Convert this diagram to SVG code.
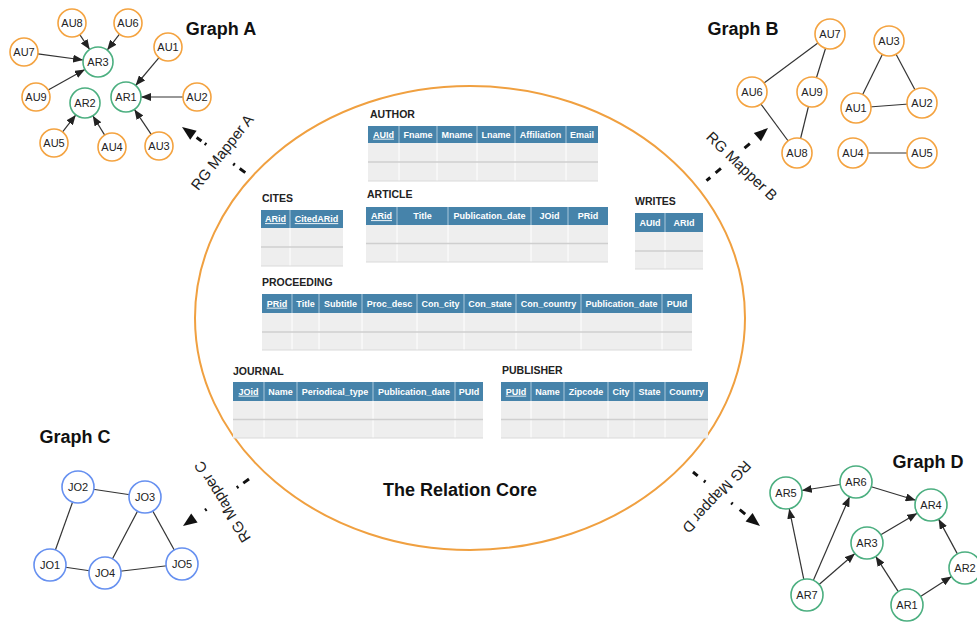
<svg xmlns="http://www.w3.org/2000/svg" width="977" height="623" viewBox="0 0 977 623">
<style>
.t{font-family:"Liberation Sans",Arial,Helvetica,sans-serif}
.edge{stroke:#333;stroke-width:1.2;fill:none}
.arr{marker-end:url(#tip)}
.au{fill:#fff;stroke:#F4A340;stroke-width:1.6}
.ar{fill:#fff;stroke:#4CAF80;stroke-width:1.6}
.jo{fill:#fff;stroke:#6690F0;stroke-width:1.6}
.nl{font-size:11px;fill:#222;text-anchor:middle;dominant-baseline:central}
.gt{font-size:18px;font-weight:bold;fill:#111;text-anchor:middle}
.tt{font-size:10.5px;font-weight:bold;fill:#222}
.hd{fill:#4683AA}
.hs{stroke:#A9C8DC;stroke-width:1}
.bd{fill:#EEEEEE}
.vs{stroke:#fff;stroke-width:1}
.rs{stroke:#CFCFCF;stroke-width:1.5}
.bs{stroke:#DADADA;stroke-width:1}
.ht{font-size:9px;font-weight:bold;fill:#fff;text-anchor:middle}
.pk{text-decoration:underline}
.mp{font-size:15px;fill:#222;text-anchor:middle;dominant-baseline:central}
.md{stroke:#111;stroke-width:3;fill:none}
.mh{fill:#111}
</style>
<defs>
<marker id="tip" markerUnits="userSpaceOnUse" markerWidth="10" markerHeight="8" viewBox="0 0 10 8" refX="10" refY="4" orient="auto">
<path d="M0,0 L10,4 L0,8 z" fill="#222"/>
</marker>
</defs>
<rect width="977" height="623" fill="#fff"/>

<!-- relation core boundary -->
<ellipse id="core" cx="470" cy="318" rx="275" ry="232" fill="none" stroke="#F0A040" stroke-width="2"/>
<text class="t" x="460" y="496" font-size="18" font-weight="bold" fill="#111" text-anchor="middle">The Relation Core</text>

<!-- ===== tables ===== -->
<g id="tbl-author">
<text class="t tt" x="370" y="118">AUTHOR</text>
<rect class="bd" x="368" y="143" width="230" height="38"/>
<rect class="hd" x="368" y="126" width="230" height="17"/>
<path class="hs" d="M399,126V143M437,126V143M477,126V143M515,126V143M566,126V143"/>
<path class="vs" d="M399,143V181M437,143V181M477,143V181M515,143V181M566,143V181"/>
<path class="rs" d="M368,162H598"/><path class="bs" d="M368,181H598"/>
<g class="t ht"><text class="pk" x="383.5" y="137.7">AUId</text><text x="418" y="137.7">Fname</text><text x="457" y="137.7">Mname</text><text x="496" y="137.7">Lname</text><text x="540.5" y="137.7">Affiliation</text><text x="582" y="137.7">Email</text></g>
</g>

<g id="tbl-article">
<text class="t tt" x="367" y="198">ARTICLE</text>
<rect class="bd" x="366" y="225" width="242" height="37"/>
<rect class="hd" x="366" y="207" width="242" height="18"/>
<path class="hs" d="M397,207V225M448,207V225M531,207V225M568,207V225"/>
<path class="vs" d="M397,225V262M448,225V262M531,225V262M568,225V262"/>
<path class="rs" d="M366,243.5H608"/><path class="bs" d="M366,262H608"/>
<g class="t ht"><text class="pk" x="381.5" y="219.2">ARid</text><text x="422.5" y="219.2">Title</text><text x="489.5" y="219.2">Publication_date</text><text x="549.5" y="219.2">JOid</text><text x="588" y="219.2">PRid</text></g>
</g>

<g id="tbl-cites">
<text class="t tt" x="262" y="202">CITES</text>
<rect class="bd" x="261" y="228" width="82" height="38"/>
<rect class="hd" x="261" y="210" width="82" height="18"/>
<path class="hs" d="M290,210V228"/>
<path class="vs" d="M290,228V266"/>
<path class="rs" d="M261,247H343"/><path class="bs" d="M261,266H343"/>
<g class="t ht"><text class="pk" x="275.5" y="222.2">ARid</text><text class="pk" x="316.5" y="222.2">CitedARid</text></g>
</g>

<g id="tbl-writes">
<text class="t tt" x="635" y="205">WRITES</text>
<rect class="bd" x="635" y="232" width="68" height="37"/>
<rect class="hd" x="635" y="213" width="68" height="19"/>
<path class="hs" d="M665,213V232"/>
<path class="vs" d="M665,232V269"/>
<path class="rs" d="M635,251H703"/><path class="bs" d="M635,269H703"/>
<g class="t ht"><text x="650" y="225.7">AUId</text><text x="684" y="225.7">ARId</text></g>
</g>

<g id="tbl-proceeding">
<text class="t tt" x="262" y="286">PROCEEDING</text>
<rect class="bd" x="262" y="313" width="430" height="37"/>
<rect class="hd" x="262" y="294" width="430" height="19"/>
<path class="hs" d="M292,294V313M319,294V313M362,294V313M417,294V313M464,294V313M516,294V313M581,294V313M662,294V313"/>
<path class="vs" d="M292,313V350M319,313V350M362,313V350M417,313V350M464,313V350M516,313V350M581,313V350M662,313V350"/>
<path class="rs" d="M262,332H692"/><path class="bs" d="M262,350H692"/>
<g class="t ht"><text class="pk" x="277" y="306.7">PRid</text><text x="305.5" y="306.7">Title</text><text x="340.5" y="306.7">Subtitle</text><text x="389.5" y="306.7">Proc_desc</text><text x="440.5" y="306.7">Con_city</text><text x="490" y="306.7">Con_state</text><text x="548.5" y="306.7">Con_country</text><text x="621.5" y="306.7">Publication_date</text><text x="677" y="306.7">PUId</text></g>
</g>

<g id="tbl-journal">
<text class="t tt" x="233" y="375">JOURNAL</text>
<rect class="bd" x="233" y="401" width="250" height="37"/>
<rect class="hd" x="233" y="382" width="250" height="19"/>
<path class="hs" d="M264,382V401M297,382V401M373,382V401M455,382V401"/>
<path class="vs" d="M264,401V438M297,401V438M373,401V438M455,401V438"/>
<path class="rs" d="M233,419.5H483"/><path class="bs" d="M233,438H483"/>
<g class="t ht"><text class="pk" x="248.5" y="394.7">JOid</text><text x="280.5" y="394.7">Name</text><text x="335" y="394.7">Periodical_type</text><text x="414" y="394.7">Publication_date</text><text x="469" y="394.7">PUId</text></g>
</g>

<g id="tbl-publisher">
<text class="t tt" x="502" y="374">PUBLISHER</text>
<rect class="bd" x="501" y="401" width="207" height="37"/>
<rect class="hd" x="501" y="382" width="207" height="19"/>
<path class="hs" d="M531,382V401M564,382V401M608,382V401M634,382V401M665,382V401"/>
<path class="vs" d="M531,401V438M564,401V438M608,401V438M634,401V438M665,401V438"/>
<path class="rs" d="M501,419.5H708"/><path class="bs" d="M501,438H708"/>
<g class="t ht"><text class="pk" x="516" y="394.7">PUId</text><text x="547.5" y="394.7">Name</text><text x="586" y="394.7">Zipcode</text><text x="621" y="394.7">City</text><text x="649.5" y="394.7">State</text><text x="686.5" y="394.7">Country</text></g>
</g>

<!-- ===== mappers ===== -->
<g id="mapper-a">
<path class="md" d="M196.6,137.5L201.5,141M204.7,143.4L206.4,144.5M233.2,163.8L234.8,165M239.7,168.5L245.3,172.6"/>
<polygon class="mh" points="182,127 196.6,130.7 190.2,139.7"/>
<text class="t mp" transform="translate(222,152) rotate(-52)">RG Mapper A</text>
</g>
<g id="mapper-b">
<path class="md" d="M749.8,143.6L744.5,148.2M720.9,168.4L715.6,172.9M710.3,177.5L706.5,180.7"/>
<polygon class="mh" points="768,128 761,141.3 753.8,132.9"/>
<text class="t mp" transform="translate(742,166) rotate(44)">RG Mapper B</text>
</g>
<g id="mapper-c">
<path class="md" d="M205,510.3L206.6,509.2M236.8,487.7L238.4,486.6M243.3,483.1L249,479"/>
<polygon class="mh" points="183,526 197.6,522.4 191.2,513.4"/>
<text class="t mp" transform="translate(222,502) rotate(-122)">RG Mapper C</text>
</g>
<g id="mapper-d">
<path class="md" d="M745.2,514.1L739.7,509.7M732.7,504L731.2,502.8M705.5,482L703.9,480.8M697.7,475.8L693,472"/>
<polygon class="mh" points="760,526 745.6,521.5 752.6,512.9"/>
<text class="t mp" transform="translate(717,497) rotate(133)">RG Mapper D</text>
</g>

<!-- ===== Graph A ===== -->
<text class="t gt" x="221" y="35">Graph A</text>
<g id="edges-a" class="edge arr">
<path d="M79.8,34.6L89.7,49.5"/>
<path d="M119.5,34.1L107.2,50.1"/>
<path d="M37.9,53.9L83.1,60"/>
<path d="M48.2,90.1L84.9,69.4"/>
<path d="M159,57.7L135.6,85.5"/>
<path d="M183,97L141,97"/>
<path d="M151.2,134.4L134.4,109.4"/>
<path d="M62.6,131.9L75.8,114.9"/>
<path d="M104.7,135.1L92.8,115.8"/>
</g>
<g id="a-AU8"><circle class="au" cx="72" cy="23" r="14"/><text class="t nl" x="72" y="23">AU8</text></g>
<g id="a-AU6"><circle class="au" cx="128" cy="23" r="14"/><text class="t nl" x="128" y="23">AU6</text></g>
<g id="a-AU7"><circle class="au" cx="24" cy="52" r="14"/><text class="t nl" x="24" y="52">AU7</text></g>
<g id="a-AR3"><circle class="ar" cx="98" cy="62" r="15"/><text class="t nl" x="98" y="62">AR3</text></g>
<g id="a-AU1"><circle class="au" cx="168" cy="47" r="14"/><text class="t nl" x="168" y="47">AU1</text></g>
<g id="a-AU9"><circle class="au" cx="36" cy="97" r="14"/><text class="t nl" x="36" y="97">AU9</text></g>
<g id="a-AR2"><circle class="ar" cx="85" cy="103" r="15"/><text class="t nl" x="85" y="103">AR2</text></g>
<g id="a-AR1"><circle class="ar" cx="126" cy="97" r="15"/><text class="t nl" x="126" y="97">AR1</text></g>
<g id="a-AU2"><circle class="au" cx="197" cy="97" r="14"/><text class="t nl" x="197" y="97">AU2</text></g>
<g id="a-AU5"><circle class="au" cx="54" cy="143" r="14"/><text class="t nl" x="54" y="143">AU5</text></g>
<g id="a-AU4"><circle class="au" cx="112" cy="147" r="14"/><text class="t nl" x="112" y="147">AU4</text></g>
<g id="a-AU3"><circle class="au" cx="159" cy="146" r="14"/><text class="t nl" x="159" y="146">AU3</text></g>

<!-- ===== Graph B ===== -->
<text class="t gt" x="743" y="35">Graph B</text>
<g id="edges-b" class="edge">
<path d="M830,34L752,92"/>
<path d="M830,34L812,92"/>
<path d="M752,92L797,153"/>
<path d="M812,92L797,153"/>
<path d="M889,41L856,108"/>
<path d="M889,41L922,103"/>
<path d="M856,108L922,103"/>
<path d="M853,153L922,153"/>
</g>
<g id="b-AU7"><circle class="au" cx="830" cy="34" r="15"/><text class="t nl" x="830" y="34">AU7</text></g>
<g id="b-AU3"><circle class="au" cx="889" cy="41" r="15"/><text class="t nl" x="889" y="41">AU3</text></g>
<g id="b-AU6"><circle class="au" cx="752" cy="92" r="15"/><text class="t nl" x="752" y="92">AU6</text></g>
<g id="b-AU9"><circle class="au" cx="812" cy="92" r="15"/><text class="t nl" x="812" y="92">AU9</text></g>
<g id="b-AU1"><circle class="au" cx="856" cy="108" r="15"/><text class="t nl" x="856" y="108">AU1</text></g>
<g id="b-AU2"><circle class="au" cx="922" cy="103" r="15"/><text class="t nl" x="922" y="103">AU2</text></g>
<g id="b-AU8"><circle class="au" cx="797" cy="153" r="15"/><text class="t nl" x="797" y="153">AU8</text></g>
<g id="b-AU4"><circle class="au" cx="853" cy="153" r="15"/><text class="t nl" x="853" y="153">AU4</text></g>
<g id="b-AU5"><circle class="au" cx="922" cy="153" r="15"/><text class="t nl" x="922" y="153">AU5</text></g>

<!-- ===== Graph C ===== -->
<text class="t gt" x="75" y="443">Graph C</text>
<g id="edges-c" class="edge">
<path d="M78,487L145,497"/>
<path d="M78,487L50,565"/>
<path d="M50,565L105,573"/>
<path d="M105,573L145,497"/>
<path d="M145,497L182,564"/>
<path d="M105,573L182,564"/>
</g>
<g id="c-JO2"><circle class="jo" cx="78" cy="487" r="16"/><text class="t nl" x="78" y="487">JO2</text></g>
<g id="c-JO3"><circle class="jo" cx="145" cy="497" r="16"/><text class="t nl" x="145" y="497">JO3</text></g>
<g id="c-JO1"><circle class="jo" cx="50" cy="565" r="16"/><text class="t nl" x="50" y="565">JO1</text></g>
<g id="c-JO4"><circle class="jo" cx="105" cy="573" r="16"/><text class="t nl" x="105" y="573">JO4</text></g>
<g id="c-JO5"><circle class="jo" cx="182" cy="564" r="16"/><text class="t nl" x="182" y="564">JO5</text></g>

<!-- ===== Graph D ===== -->
<text class="t gt" x="928" y="468">Graph D</text>
<g id="edges-d" class="edge arr">
<path d="M840.2,484.5L801.8,490.5"/>
<path d="M871.3,486.7L915.7,500.3"/>
<path d="M803.8,579.3L789.2,508.7"/>
<path d="M813.4,580.3L849.6,496.7"/>
<path d="M819.1,584.5L854.9,553.5"/>
<path d="M880.8,534.8L917.2,513.2"/>
<path d="M898.3,591.6L875.7,556.4"/>
<path d="M920.5,596.4L951.5,576.6"/>
<path d="M957.4,553.9L938.6,519.1"/>
</g>
<g id="d-AR5"><circle class="ar" cx="786" cy="493" r="16"/><text class="t nl" x="786" y="493">AR5</text></g>
<g id="d-AR6"><circle class="ar" cx="856" cy="482" r="16"/><text class="t nl" x="856" y="482">AR6</text></g>
<g id="d-AR4"><circle class="ar" cx="931" cy="505" r="16"/><text class="t nl" x="931" y="505">AR4</text></g>
<g id="d-AR3"><circle class="ar" cx="867" cy="543" r="16"/><text class="t nl" x="867" y="543">AR3</text></g>
<g id="d-AR2"><circle class="ar" cx="965" cy="568" r="16"/><text class="t nl" x="965" y="568">AR2</text></g>
<g id="d-AR7"><circle class="ar" cx="807" cy="595" r="16"/><text class="t nl" x="807" y="595">AR7</text></g>
<g id="d-AR1"><circle class="ar" cx="907" cy="605" r="16"/><text class="t nl" x="907" y="605">AR1</text></g>
</svg>
